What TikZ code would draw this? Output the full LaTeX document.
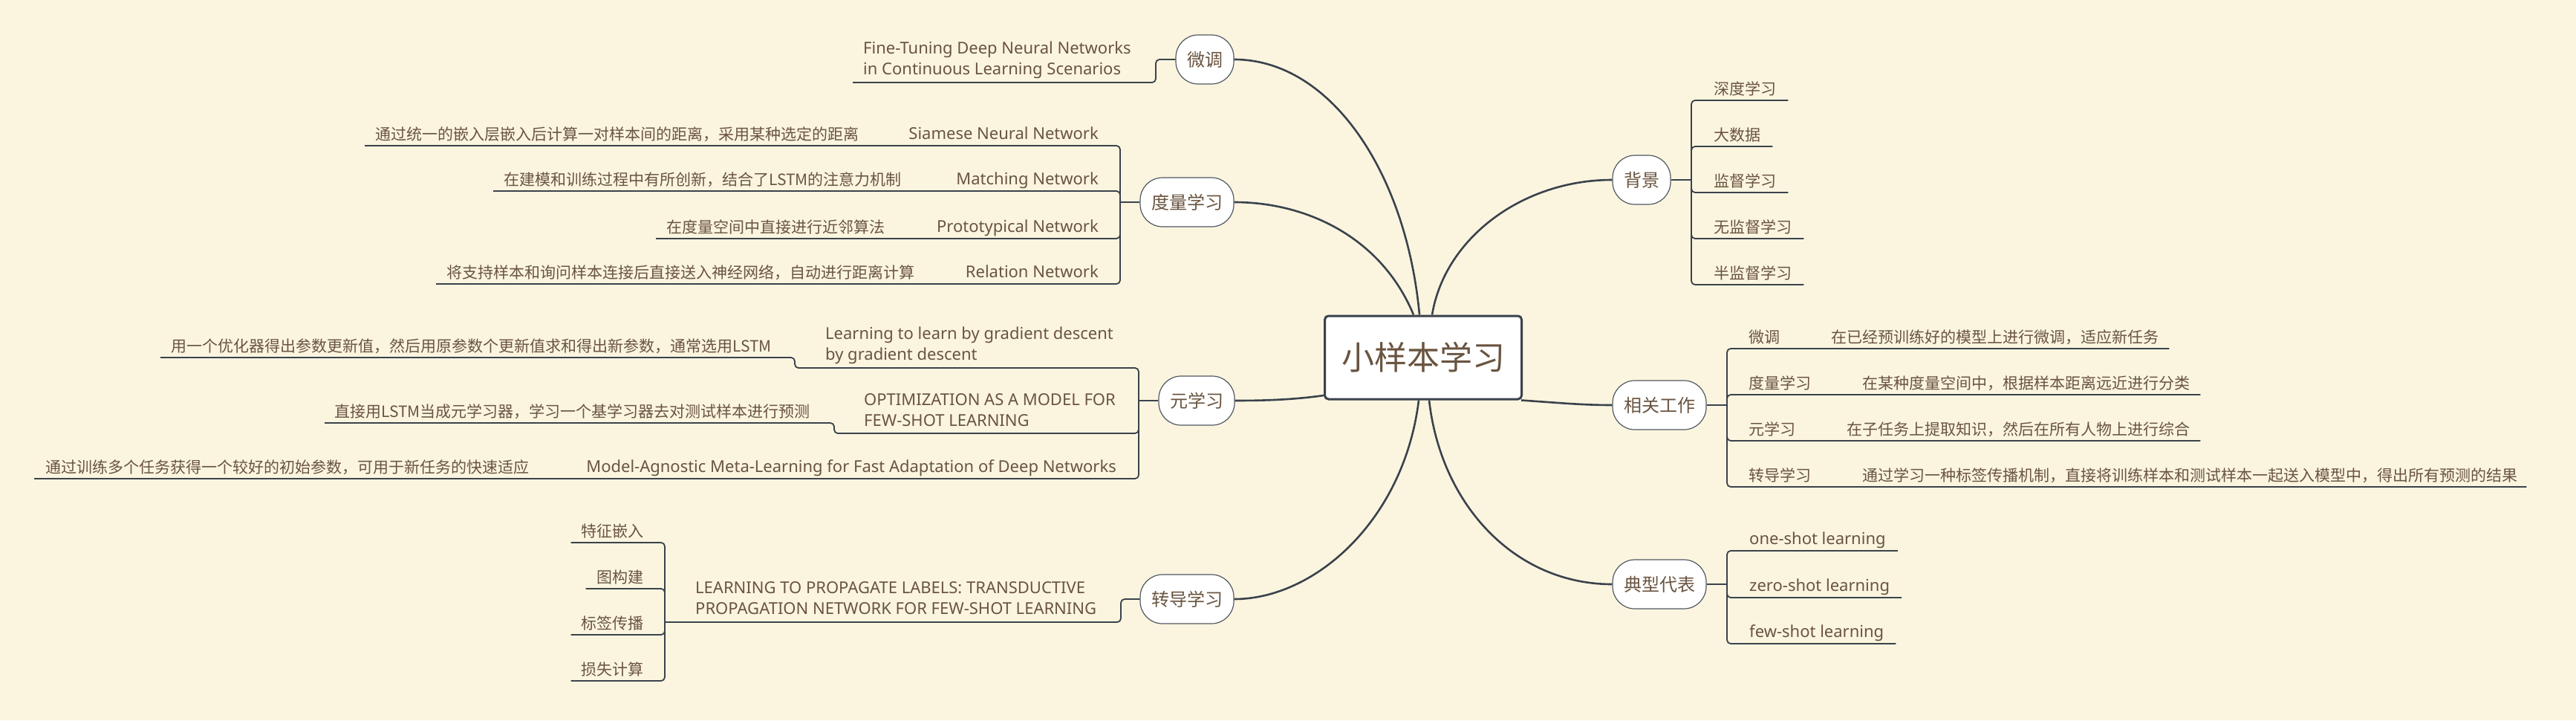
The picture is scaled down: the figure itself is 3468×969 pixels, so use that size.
\documentclass[tikz,border=0pt]{standalone}
\usepackage{fontspec}
\setmainfont{Noto Sans}
\newfontfamily\cjk{Noto Sans CJK SC}
\usetikzlibrary{calc}
\definecolor{bgc}{RGB}{251,245,223}
\definecolor{txt}{RGB}{106,84,64}
\definecolor{ln}{RGB}{58,66,76}
\definecolor{nb}{RGB}{80,88,98}
\begin{document}
\begin{tikzpicture}[x=1pt,y=-1pt,
  conn/.style={draw=ln, line width=2.6pt},
  branch/.style={draw=ln, line width=1.8pt, rounded corners=5pt},
  sub/.style={draw=nb, line width=1.2pt, fill=white, rounded corners=30pt,
    minimum height=66pt, inner xsep=15pt, inner ysep=0pt,
    font=\cjk\fontsize{24}{24}\selectfont, text=txt},
  cz/.style={inner sep=0pt, font=\cjk\fontsize{21}{21}\selectfont, text=txt},
  en/.style={inner sep=0pt, font=\fontsize{22}{28.5}\selectfont, text=txt},
  centre/.style={draw=ln, line width=3pt, fill=white, rounded corners=5pt,
    minimum width=265pt, minimum height=112pt, inner sep=0pt,
    font=\cjk\fontsize{44}{44}\selectfont, text=txt}
]
\fill[bgc] (0,0) rectangle (3468,969);
\useasboundingbox (0,0) rectangle (3468,969);

% ---------- main nodes ----------
\node[centre] (c) at (1916,481) {小样本学习};
\node[sub] (wt) at (1622,80) {微调};
\node[sub] (dl) at (1598,272) {度量学习};
\node[sub] (yx) at (1611,539) {元学习};
\node[sub] (zd) at (1598,806) {转导学习};
\node[sub] (bj) at (2210,242) {背景};
\node[sub] (xg) at (2234,545) {相关工作};
\node[sub] (dx) at (2234,786) {典型代表};

% ---------- main connectors ----------
\draw[conn] ([xshift=-5pt]c.north) .. controls (1893,230) and (1790,80) .. (wt.east);
\draw[conn] ([xshift=-13pt]c.north) .. controls (1860,320) and (1760,272) .. (dl.east);
\draw[conn] ([yshift=-51pt]c.west) .. controls (1740,538) and (1700,539) .. (yx.east);
\draw[conn] ([xshift=-6pt]c.south) .. controls (1890,700) and (1770,806) .. (zd.east);
\draw[conn] ([xshift=12pt]c.north) .. controls (1945,320) and (2050,242) .. (bj.west);
\draw[conn] ([xshift=-2pt]c.south east) .. controls (2100,542) and (2130,545) .. (xg.west);
\draw[conn] ([xshift=8pt]c.south) .. controls (1940,680) and (2040,786) .. (dx.west);

% ---------- 微调 (left) ----------
\node[en, align=left, anchor=base west] (ft) at (1162,100.5) {Fine-Tuning Deep Neural Networks\\in Continuous Learning Scenarios};
\coordinate (wtj) at (1556,80);
\path (ft.base west) ++(-14,10.5) coordinate (ftu);
\draw[branch] (wt.west) -- (wtj) |- (ftu);

% ---------- 度量学习 ----------
\coordinate (dlj) at (1508,272);
\draw[branch] (dl.west) -- (dlj);
\node[en, anchor=base east] (sia) at (1479,187) {Siamese Neural Network};
\node[cz, anchor=base west] (siad) at (505,188) {通过统一的嵌入层嵌入后计算一对样本间的距离，采用某种选定的距离};
\node[en, anchor=base east] (mat) at (1479,248) {Matching Network};
\node[cz, anchor=base west] (matd) at (678,249) {在建模和训练过程中有所创新，结合了LSTM的注意力机制};
\node[en, anchor=base east] (pro) at (1479,312) {Prototypical Network};
\node[cz, anchor=base west] (prod) at (897,313) {在度量空间中直接进行近邻算法};
\node[en, anchor=base east] (rel) at (1479,373) {Relation Network};
\node[cz, anchor=base west] (reld) at (601,374) {将支持样本和询问样本连接后直接送入神经网络，自动进行距离计算};
\path (siad.base west) ++(-14,8) coordinate (siau);
\path (matd.base west) ++(-14,8) coordinate (matu);
\path (prod.base west) ++(-14,8) coordinate (produ);
\path (reld.base west) ++(-14,8) coordinate (relu);
\draw[branch] (dlj) |- (siau);
\draw[branch] (dlj) |- (matu);
\draw[branch] (dlj) |- (produ);
\draw[branch] (dlj) |- (relu);

% ---------- 元学习 ----------
\coordinate (yxj) at (1533,539);
\draw[branch] (yx.west) -- (yxj);
\node[en, align=left, anchor=base west] (l2l) at (1111,484.5) {Learning to learn by gradient descent\\by gradient descent};
\node[cz, anchor=base west] (l2ld) at (230,473) {用一个优化器得出参数更新值，然后用原参数个更新值求和得出新参数，通常选用LSTM};
\node[en, align=left, anchor=base west] (opt) at (1163,573.5) {OPTIMIZATION AS A MODEL FOR\\FEW-SHOT LEARNING};
\node[cz, anchor=base west] (optd) at (450,561) {直接用LSTM当成元学习器，学习一个基学习器去对测试样本进行预测};
\node[en, anchor=base east] (maml) at (1503,635) {Model-Agnostic Meta-Learning for Fast Adaptation of Deep Networks};
\node[cz, anchor=base west] (mamld) at (61,636) {通过训练多个任务获得一个较好的初始参数，可用于新任务的快速适应};
\path (l2l.base west) ++(-41,10.5) coordinate (l2ls);
\path (l2ld.base west) ++(-14,8) coordinate (l2lu);
\path (opt.base west) ++(-40,9.5) coordinate (opts);
\path (optd.base west) ++(-13,8) coordinate (optu);
\path (mamld.base west) ++(-15,8) coordinate (mamlu);
\draw[branch] (yxj) |- (l2ls) |- (l2lu);
\draw[branch] (yxj) |- (opts) |- (optu);
\draw[branch] (yxj) |- (mamlu);

% ---------- 转导学习 ----------
\node[en, align=left, anchor=base west] (lp) at (936,826.5) {LEARNING TO PROPAGATE LABELS: TRANSDUCTIVE\\PROPAGATION NETWORK FOR FEW-SHOT LEARNING};
\coordinate (zdj) at (1509,806);
\path (lp.base west) ++(-41,10.5) coordinate (zbar);
\draw[branch] (zd.west) -- (zdj) |- (zbar);
\node[cz, anchor=base east] (tz) at (867,722) {特征嵌入};
\node[cz, anchor=base east] (gj) at (867,784) {图构建};
\node[cz, anchor=base east] (bq) at (867,846) {标签传播};
\node[cz, anchor=base east] (ss) at (867,908) {损失计算};
\path (tz.base west) ++(-14,8) coordinate (tzu);
\path (gj.base west) ++(-15,8) coordinate (gju);
\path (bq.base west) ++(-14,8) coordinate (bqu);
\path (ss.base west) ++(-14,8) coordinate (ssu);
\draw[branch] (zbar) |- (tzu);
\draw[branch] (zbar) |- (gju);
\draw[branch] (zbar) |- (bqu);
\draw[branch] (zbar) |- (ssu);

% ---------- 背景 ----------
\coordinate (bjj) at (2277,242);
\draw[branch] (bj.east) -- (bjj);
\node[cz, anchor=base west] (sd) at (2307,127) {深度学习};
\node[cz, anchor=base west] (dsj) at (2307,189) {大数据};
\node[cz, anchor=base west] (jd) at (2307,251) {监督学习};
\node[cz, anchor=base west] (wj) at (2307,313) {无监督学习};
\node[cz, anchor=base west] (bjd) at (2307,375) {半监督学习};
\path (sd.base east) ++(16,8) coordinate (sdu);
\path (dsj.base east) ++(16,8) coordinate (dsju);
\path (jd.base east) ++(16,8) coordinate (jdu);
\path (wj.base east) ++(16,8) coordinate (wju);
\path (bjd.base east) ++(16,8) coordinate (bjdu);
\draw[branch] (bjj) |- (sdu);
\draw[branch] (bjj) |- (dsju);
\draw[branch] (bjj) |- (jdu);
\draw[branch] (bjj) |- (wju);
\draw[branch] (bjj) |- (bjdu);

% ---------- 相关工作 ----------
\coordinate (xgj) at (2325,545);
\draw[branch] (xg.east) -- (xgj);
\node[cz, anchor=base west] (r1) at (2354,461) {微调};
\node[cz, anchor=base west] (r1d) at (2465,461) {在已经预训练好的模型上进行微调，适应新任务};
\node[cz, anchor=base west] (r2) at (2354,523) {度量学习};
\node[cz, anchor=base west] (r2d) at (2507,523) {在某种度量空间中，根据样本距离远近进行分类};
\node[cz, anchor=base west] (r3) at (2354,585) {元学习};
\node[cz, anchor=base west] (r3d) at (2486,585) {在子任务上提取知识，然后在所有人物上进行综合};
\node[cz, anchor=base west] (r4) at (2354,647) {转导学习};
\node[cz, anchor=base west] (r4d) at (2507,647) {通过学习一种标签传播机制，直接将训练样本和测试样本一起送入模型中，得出所有预测的结果};
\path (r1d.base east) ++(14,8) coordinate (r1u);
\path (r2d.base east) ++(14,8) coordinate (r2u);
\path (r3d.base east) ++(14,8) coordinate (r3u);
\path (r4d.base east) ++(12,8) coordinate (r4u);
\draw[branch] (xgj) |- (r1u);
\draw[branch] (xgj) |- (r2u);
\draw[branch] (xgj) |- (r3u);
\draw[branch] (xgj) |- (r4u);

% ---------- 典型代表 ----------
\coordinate (dxj) at (2325,786);
\draw[branch] (dx.east) -- (dxj);
\node[en, anchor=base west] (os) at (2355,732) {one-shot learning};
\node[en, anchor=base west] (zs) at (2355,795) {zero-shot learning};
\node[en, anchor=base west] (fs) at (2355,857) {few-shot learning};
\path (os.base east) ++(16,9) coordinate (osu);
\path (zs.base east) ++(16,9) coordinate (zsu);
\path (fs.base east) ++(16,9) coordinate (fsu);
\draw[branch] (dxj) |- (osu);
\draw[branch] (dxj) |- (zsu);
\draw[branch] (dxj) |- (fsu);
\end{tikzpicture}
\end{document}
